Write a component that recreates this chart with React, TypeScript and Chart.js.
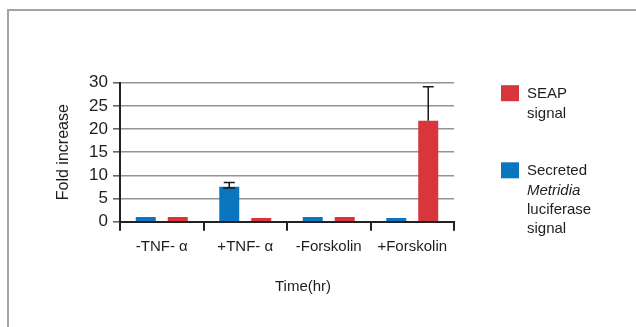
import React, { useEffect, useRef } from 'react';
import { Chart, registerables } from 'chart.js';

Chart.register(...registerables);

// ---- data ----
const categories = ['-TNF- α', '+TNF- α', '-Forskolin', '+Forskolin'];
const metridiaValues = [1.0, 7.55, 1.0, 0.8];
const metridiaErrUp = [0, 0.9, 0, 0];
const metridiaErrDown = [0, 0.3, 0, 0];
const seapValues = [1.0, 0.8, 1.0, 21.8];
const seapErrUp = [0, 0, 0, 7.3];
const seapErrDown = [0, 0, 0, 0];
const yTicks = [0, 5, 10, 15, 20, 25, 30];
const seapLegend = [{ text: 'SEAP' }, { text: 'signal' }];
const metridiaLegend = [
  { text: 'Secreted' },
  { text: 'Metridia', italic: true },
  { text: 'luciferase' },
  { text: 'signal' },
];
const yTitle = 'Fold increase';
const xTitle = 'Time(hr)';

const BLUE = '#0a76c0';
const RED = '#d8353c';
const TEXT = '#1e1e1e';
const FONT = '"Liberation Sans", Arial, Helvetica, sans-serif';

const errorBarPlugin = {
  id: 'errorBars',
  afterDatasetsDraw(chart: any) {
    const { ctx } = chart;
    const ys = chart.scales.y;
    chart.data.datasets.forEach((ds: any, i: number) => {
      const meta = chart.getDatasetMeta(i);
      meta.data.forEach((bar: any, j: number) => {
        const up = ds.errUp[j];
        const down = ds.errDown[j];
        if (!up && !down) return;
        const v = ds.data[j];
        const x = bar.x;
        const yTop = ys.getPixelForValue(v + up);
        const yBot = ys.getPixelForValue(v - down);
        ctx.save();
        ctx.strokeStyle = '#1a1a1a';
        ctx.lineWidth = 1.5;
        ctx.beginPath();
        ctx.moveTo(x, yTop);
        ctx.lineTo(x, yBot);
        ctx.moveTo(x - 5.5, yTop);
        ctx.lineTo(x + 5.5, yTop);
        if (down) {
          ctx.moveTo(x - 6, yBot);
          ctx.lineTo(x + 6, yBot);
        }
        ctx.stroke();
        ctx.restore();
      });
    });
  },
};

const sideLegendPlugin = {
  id: 'sideLegend',
  afterDraw(chart: any) {
    const { ctx, chartArea } = chart;
    const items = [
      { color: RED, lines: seapLegend },
      { color: BLUE, lines: metridiaLegend },
    ];
    const x0 = chartArea.right + 47;
    let top = chartArea.top + 2.5;
    const lineH = 19.3;
    ctx.save();
    items.forEach((it) => {
      ctx.fillStyle = it.color;
      ctx.fillRect(x0, top, 18, 16);
      ctx.fillStyle = TEXT;
      ctx.textBaseline = 'alphabetic';
      ctx.textAlign = 'left';
      it.lines.forEach((ln: any, k: number) => {
        ctx.font = `${ln.italic ? 'italic ' : ''}15px ${FONT}`;
        ctx.fillText(ln.text, x0 + 26, top + 13 + k * lineH);
      });
      top += it.lines.length * lineH + 38.5;
    });
    // x axis title
    ctx.font = `15px ${FONT}`;
    ctx.textAlign = 'center';
    ctx.textBaseline = 'middle';
    ctx.fillStyle = TEXT;
    ctx.fillText(xTitle, (chartArea.left + chartArea.right) / 2 + 16, chartArea.bottom + 65);
    ctx.restore();
  },
};

export default function App() {
  const ref = useRef<HTMLCanvasElement | null>(null);

  useEffect(() => {
    if (!ref.current) return;
    Chart.defaults.font.family = FONT;
    const gridColor = 'rgba(60,60,60,0.55)';
    const chart = new Chart(ref.current, {
      type: 'bar',
      data: {
        labels: categories,
        datasets: [
          {
            label: 'Secreted Metridia luciferase signal',
            data: metridiaValues,
            backgroundColor: BLUE,
            errUp: metridiaErrUp,
            errDown: metridiaErrDown,
            categoryPercentage: 0.766,
            barPercentage: 0.625,
          } as any,
          {
            label: 'SEAP signal',
            data: seapValues,
            backgroundColor: RED,
            errUp: seapErrUp,
            errDown: seapErrDown,
            categoryPercentage: 0.766,
            barPercentage: 0.625,
          } as any,
        ],
      },
      options: {
        animation: false,
        responsive: false,
        maintainAspectRatio: false,
        layout: { padding: { left: 0, right: 182, top: 82.7, bottom: 0 } },
        plugins: {
          legend: { display: false },
          tooltip: { enabled: false },
          title: { display: false },
        },
        scales: {
          x: {
            type: 'category',
            z: 1,
            offset: true,
            afterFit: (s: any) => {
              s.height = 105.3;
            },
            grid: {
              offset: true,
              drawOnChartArea: false,
              color: '#222',
              lineWidth: 2,
              tickLength: 9,
            },
            border: { display: true, color: '#222', width: 2 },
            ticks: {
              color: TEXT,
              font: { size: 15, family: FONT },
              padding: 7,
              maxRotation: 0,
              autoSkip: false,
            },
          },
          y: {
            type: 'linear',
            z: 1,
            min: 0,
            max: 30,
            afterFit: (s: any) => {
              s.width = 120;
            },
            afterBuildTicks: (s: any) => {
              s.ticks = yTicks.map((v) => ({ value: v }));
            },
            grid: {
              color: (c: any) => (c.tick && c.tick.value === 0 ? 'rgba(0,0,0,0)' : gridColor),
              tickColor: '#666',
              lineWidth: 1.6,
              tickLength: 7,
            },
            border: { display: true, color: '#222', width: 2 },
            ticks: {
              color: TEXT,
              font: { size: 17, family: FONT },
              padding: 5,
              autoSkip: false,
            },
            title: {
              display: true,
              text: yTitle,
              color: TEXT,
              font: { size: 16, family: FONT },
              padding: { top: 54.4, bottom: 0 },
            },
          },
        },
      },
      plugins: [errorBarPlugin, sideLegendPlugin],
    } as any);
    return () => chart.destroy();
  }, []);

  return (
    <div
      style={{
        position: 'fixed',
        left: 0,
        top: 0,
        width: 636,
        height: 327,
        background: '#fff',
        overflow: 'hidden',
      }}
    >
      <div
        style={{
          position: 'absolute',
          left: 7,
          top: 9,
          width: 700,
          height: 400,
          borderTop: '2px solid #a2a2a2',
          borderLeft: '2px solid #a2a2a2',
        }}
      />
      <canvas
        ref={ref}
        width={636}
        height={327}
        style={{ position: 'absolute', left: 0, top: 0, width: 636, height: 327 }}
      />
    </div>
  );
}
